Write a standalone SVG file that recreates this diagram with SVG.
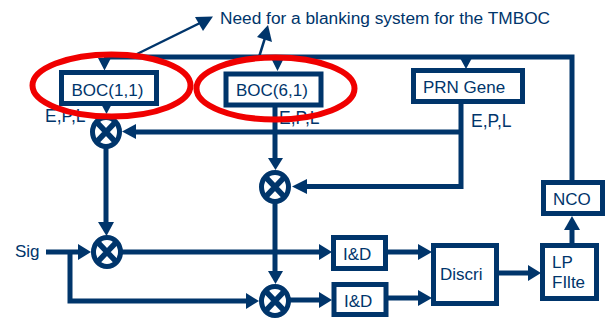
<svg xmlns="http://www.w3.org/2000/svg" width="607" height="320" viewBox="0 0 607 320">
<style>
.b{fill:#fff;stroke:#00356b;stroke-width:5}
.w{fill:none;stroke:#00356b;stroke-width:5}
.x{fill:none;stroke:#00356b;stroke-width:5.500}
.t{fill:none;stroke:#00356b;stroke-width:2.5}
.h{fill:#00356b;stroke:none}
.r{fill:none;stroke:#f00000;stroke-width:6}
text{font-family:"Liberation Sans",Arial,sans-serif;font-size:17px;fill:#00356b}
.e{font-size:17.500px}
</style>
<defs>
<g id="mx"><ellipse class="b" rx="13.500" ry="14.500"/><path class="x" d="M-10,-10.500L10,10.500M10,-10.500L-10,10.500"/></g>
</defs>
<g id="connectors">
<path class="w" d="M104,57H572V181"/>
<path class="h" d="M98,58H111L104.500,70.500ZM271,58H284L277.500,71ZM460,58H472L466,69Z"/>
<path class="w" d="M106,100V106"/>
<path class="h" d="M99,100H114L106.500,114Z"/>
<path class="w" d="M106,148V223"/>
<path class="h" d="M98,222H114L106.500,236Z"/>
<path class="w" d="M275,106V160"/>
<path class="h" d="M268,158H283L275.500,170Z"/>
<path class="w" d="M275,203V273"/>
<path class="h" d="M268,271H283L275.500,284Z"/>
<path class="w" d="M461,104V186.500H306"/>
<path class="h" d="M307,179V194L292,186.500Z"/>
<path class="w" d="M461,132H135"/>
<path class="h" d="M136,124V139L122,131.500Z"/>
<path class="w" d="M46,252H79"/>
<path class="h" d="M78,244V260L91,252Z"/>
<path class="w" d="M70,252V301H247"/>
<path class="h" d="M246,293V309L259,301Z"/>
<path class="w" d="M121,252H320"/>
<path class="h" d="M319,244V260L332,252Z"/>
<path class="w" d="M290,300H320"/>
<path class="h" d="M319,292V308L332,300Z"/>
<path class="w" d="M388,252H419"/>
<path class="h" d="M418,244V260L432,252Z"/>
<path class="w" d="M388,298H419"/>
<path class="h" d="M418,290V306L432,298Z"/>
<path class="w" d="M499,273H529"/>
<path class="h" d="M528,265V281L541,273Z"/>
<path class="w" d="M572,243V229"/>
<path class="h" d="M564,230H580L572,216Z"/>
<path class="t" d="M137,54L200,23"/>
<path class="h" d="M195,17L203,31L213,16.500Z"/>
<path class="t" d="M259,57L265,38"/>
<path class="h" d="M257,37L272,42L268,25Z"/>
</g>
<g id="boc11"><rect class="b" x="61.500" y="72.500" width="95" height="31"/><text x="71.500" y="96">BOC(1,1)</text></g>
<g id="boc61"><rect class="b" x="226" y="74" width="95" height="31"/><text x="236" y="96">BOC(6,1)</text></g>
<g id="prn"><rect class="b" x="413.500" y="70.500" width="109" height="31"/><text x="423" y="93">PRN Gene</text></g>
<g id="nco"><rect class="b" x="543.500" y="182.500" width="59" height="31"/><text x="553" y="205">NCO</text></g>
<g id="id1"><rect class="b" x="333.500" y="237.500" width="52" height="31"/><text x="343" y="260">I&amp;D</text></g>
<g id="id2"><rect class="b" x="334" y="284.500" width="52" height="30"/><text x="344" y="307">I&amp;D</text></g>
<g id="discri"><rect class="b" x="433.500" y="245.500" width="63" height="58"/><text x="440" y="280">Discri</text></g>
<g id="lp"><rect class="b" x="542.500" y="245.500" width="54" height="53"/><text x="552" y="268">LP</text><text x="552" y="288">FIlte</text></g>
<g id="mix1"><use href="#mx" x="106" y="132"/></g>
<g id="mix2"><use href="#mx" x="275" y="187"/></g>
<g id="mix3"><use href="#mx" x="107" y="252"/></g>
<g id="mix4"><use href="#mx" x="275" y="301"/></g>
<g id="labels">
<text x="220" y="23.500" style="font-size:17.300px">Need for a blanking system for the TMBOC</text>
<text class="e" x="45" y="122">E,P,L</text>
<text class="e" x="279" y="124">E,P,L</text>
<text class="e" x="471" y="127">E,P,L</text>
<text x="15" y="257">Sig</text>
</g>
<g id="highlights">
<ellipse class="r" cx="111.500" cy="85.500" rx="79" ry="31"/>
<ellipse class="r" cx="275.500" cy="88.500" rx="79" ry="31"/>
</g>
</svg>
